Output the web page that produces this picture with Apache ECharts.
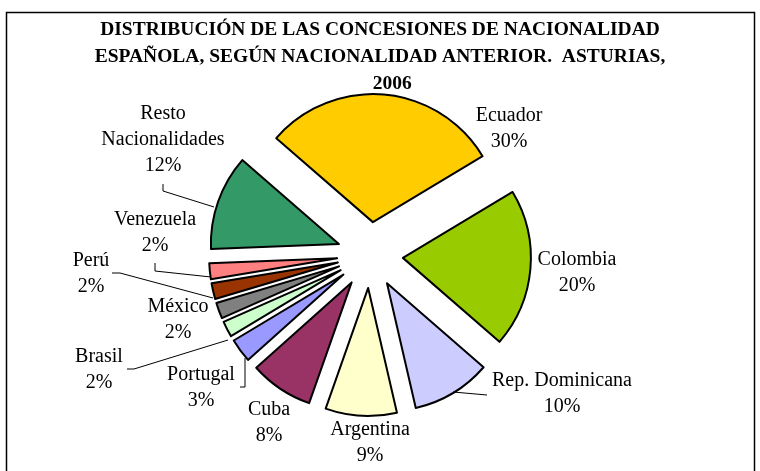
<!DOCTYPE html>
<html><head><meta charset="utf-8">
<script src="https://cdn.jsdelivr.net/npm/echarts@6/dist/echarts.min.js"></script>
<style>html,body{margin:0;padding:0;background:#fff}#c{width:760px;height:471px}</style>
</head><body><div id="c"></div>
<script>
const titleText = 'DISTRIBUCIÓN DE LAS CONCESIONES DE NACIONALIDAD\nESPAÑOLA, SEGÚN NACIONALIDAD ANTERIOR.  ASTURIAS,\n     2006';
const categories = ['Ecuador','Colombia','Rep. Dominicana','Argentina','Cuba','Portugal','Brasil','México','Perú','Venezuela','Resto Nacionalidades'];
const values = [30,20,10,9,8,3,2,2,2,2,12];
const colors = ['#FFCC00','#99CC00','#CCCCFF','#FFFFCC','#993366','#9999FF','#CCFFCC','#808080','#993300','#FF8080','#339966'];
// label block centres (layout)
const labelPos = [[509,129],[577,273],[562,394],[370,443],[269,423],[201,388],[99,370],[178,320],[91,274],[155,233],[163,140]];
// leader lines (layout)
const labelLines = [
  null, null,
  [[453,392],[487,395]],
  null, null,
  [[240,387],[245,387],[245,358]],
  [[127,369],[134,369],[228,340]],
  null,
  [[112,273],[120,273],[213,298]],
  [[155,263],[155,271],[211,277]],
  [[163,184],[163,191],[214,207]]
];

const chart = echarts.init(document.getElementById('c'), null, {renderer:'canvas'});
const font = 'Liberation Serif, Times New Roman, serif';

const labelGraphics = categories.map((n, i) => ({
  type: 'text', silent: true, z: 50,
  x: labelPos[i][0], y: labelPos[i][1],
  style: {
    text: n.replace('Resto ', 'Resto\n') + '\n' + values[i] + '%',
    font: '20px ' + font, fill: '#000', lineHeight: 26,
    align: 'center', verticalAlign: 'middle'
  }
}));
const lineGraphics = labelLines.filter(l => l).map(pts => ({
  type: 'polyline', silent: true, z: 50,
  shape: {points: pts},
  style: {fill: 'none', stroke: '#000', lineWidth: 1}
}));

chart.setOption({
  animation: false,
  backgroundColor: '#fff',
  title: {
    text: titleText,
    left: 'center', top: 16, padding: 0,
    textStyle: {fontFamily: font, fontWeight: 'bold', fontSize: 19.5, lineHeight: 27, color: '#000'}
  },
  graphic: [{
    type: 'rect', silent: true, z: 100,
    shape: {x: 6.5, y: 12.5, width: 748, height: 500},
    style: {fill: 'none', stroke: '#000', lineWidth: 1.5}
  }].concat(labelGraphics, lineGraphics),
  series: [{
    type: 'pie',
    center: [370, 255],
    radius: 128,
    startAngle: 139,
    clockwise: true,
    selectedMode: 'multiple',
    selectedOffset: 33,
    avoidLabelOverlap: false,
    emphasis: {disabled: true},
    itemStyle: {borderColor: '#000', borderWidth: 2},
    label: {show: false},
    labelLine: {show: false},
    data: categories.map((n, i) => ({
      name: n, value: values[i], selected: true,
      itemStyle: {color: colors[i]},
      select: {itemStyle: {color: colors[i], borderColor: '#000', borderWidth: 2}}
    }))
  }]
});
</script></body></html>
